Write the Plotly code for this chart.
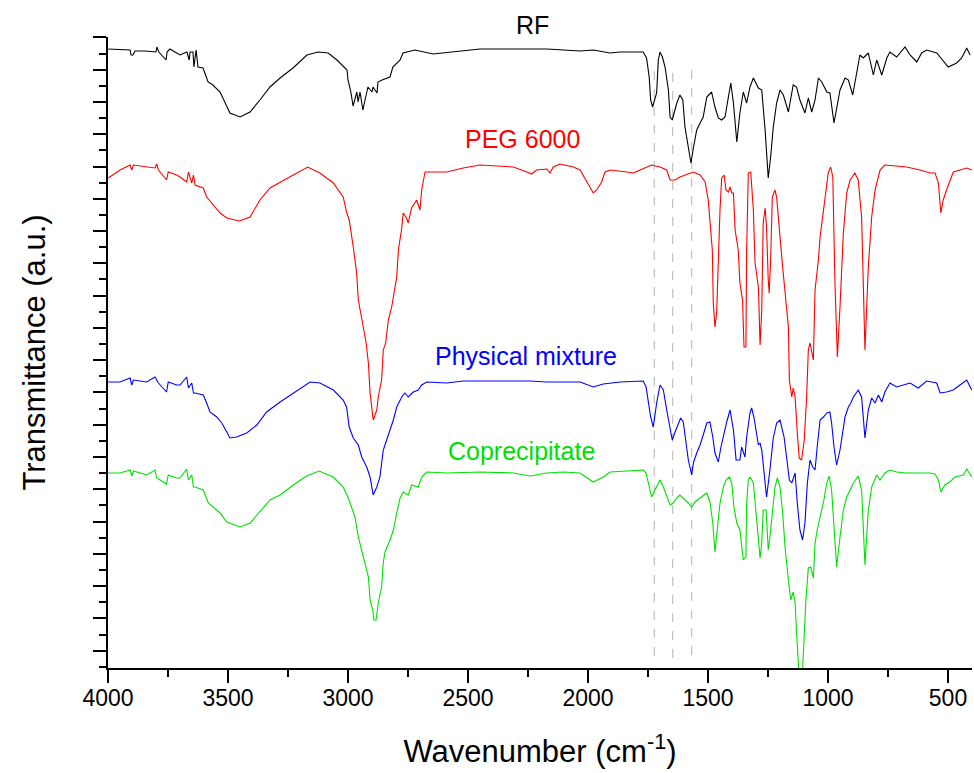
import plotly.graph_objects as go

# ---- data: (wavenumber cm-1, transmittance a.u., offset-stacked) ----
rf_points = [(3999,619),(3908,618),(3904,613),(3896,613),(3888,617),(3846,617),(3800,616),(3796,621),(3788,616),(3758,608),(3754,616),(3742,619),(3721,616),(3700,613),(3671,616),(3662,608),(3658,616),(3646,616),(3642,601),(3633,618),(3625,601),(3604,600),(3583,586),(3563,583),(3533,576),(3504,562),(3492,555),(3450,551),(3408,556),(3367,568),(3325,581),(3283,590),(3229,600),(3171,613),(3125,616),(3083,615),(3046,608),(3004,598),(3000,588),(2988,576),(2979,562),(2963,576),(2958,566),(2950,576),(2938,558),(2929,568),(2917,581),(2900,576),(2896,581),(2879,575),(2875,586),(2858,588),(2825,591),(2813,601),(2783,608),(2771,615),(2721,618),(2646,614),(2450,619),(2313,619),(2171,619),(2033,617),(1978,618),(1908,615),(1867,616),(1770,616),(1756,610),(1745,591),(1739,568),(1731,561),(1721,570),(1714,575),(1707,608),(1700,616),(1690,611),(1679,601),(1665,578),(1658,551),(1649,548),(1637,560),(1630,565),(1617,573),(1605,568),(1596,541),(1582,518),(1571,505),(1561,520),(1547,538),(1533,545),(1520,551),(1505,571),(1485,576),(1471,561),(1457,550),(1443,548),(1429,551),(1415,571),(1405,585),(1394,565),(1380,526),(1367,555),(1353,576),(1339,565),(1325,581),(1311,590),(1290,580),(1276,578),(1262,538),(1249,490),(1239,511),(1228,541),(1214,565),(1200,578),(1186,573),(1165,556),(1145,583),(1131,581),(1117,568),(1096,555),(1082,570),(1068,556),(1054,568),(1040,590),(1026,586),(1005,576),(992,575),(975,545),(964,561),(950,578),(929,590),(915,588),(897,573),(880,598),(867,613),(853,610),(832,615),(811,593),(797,608),(776,593),(755,610),(742,616),(714,611),(679,621),(658,613),(630,606),(610,615),(589,618),(547,615),(499,601),(464,605),(443,610),(422,620),(408,613)]

peg_points = [(3999,490),(3950,498),(3908,503),(3901,498),(3894,503),(3839,501),(3804,500),(3797,504),(3790,498),(3756,488),(3749,496),(3714,493),(3700,491),(3672,486),(3665,496),(3651,485),(3644,493),(3637,483),(3603,480),(3589,471),(3568,465),(3533,455),(3505,450),(3453,447),(3408,451),(3367,468),(3325,480),(3283,486),(3228,493),(3168,501),(3117,495),(3061,485),(3020,471),(3006,456),(2995,448),(2978,421),(2964,395),(2957,368),(2939,346),(2925,326),(2915,305),(2908,275),(2895,248),(2880,258),(2874,271),(2860,288),(2853,318),(2843,325),(2832,348),(2818,361),(2811,371),(2797,391),(2790,418),(2776,440),(2770,455),(2756,450),(2749,445),(2735,460),(2714,468),(2700,458),(2693,478),(2679,496),(2589,496),(2520,500),(2450,503),(2311,501),(2255,496),(2235,494),(2214,498),(2172,499),(2158,495),(2145,501),(2117,504),(2061,501),(2033,498),(2005,486),(1978,475),(1964,478),(1943,486),(1929,496),(1908,498),(1839,496),(1811,495),(1783,498),(1735,503),(1700,501),(1672,498),(1658,488),(1637,488),(1617,491),(1561,496),(1533,493),(1512,486),(1499,468),(1489,438),(1482,418),(1478,365),(1471,341),(1464,355),(1457,418),(1450,458),(1443,490),(1433,493),(1425,478),(1415,476),(1408,481),(1401,475),(1394,475),(1387,438),(1374,418),(1367,385),(1356,368),(1350,321),(1342,321),(1339,418),(1332,495),(1322,496),(1311,458),(1304,405),(1290,381),(1283,323),(1276,358),(1270,445),(1262,460),(1256,441),(1249,388),(1245,375),(1239,408),(1232,471),(1221,478),(1214,471),(1207,451),(1200,428),(1189,401),(1179,376),(1165,341),(1161,288),(1151,271),(1145,280),(1137,271),(1128,235),(1120,210),(1110,208),(1099,228),(1089,271),(1082,318),(1075,325),(1068,318),(1061,308),(1054,378),(1040,408),(1033,431),(1019,458),(1012,476),(999,495),(989,501),(980,491),(971,385),(961,311),(950,361),(936,435),(922,475),(908,488),(888,495),(874,488),(860,451),(846,318),(832,401),(818,451),(804,478),(783,498),(763,503),(728,502),(672,501),(617,498),(575,495),(554,495),(540,485),(530,455),(520,468),(506,478),(492,488),(478,496),(450,498),(422,500),(401,498)]

pm_points = [(3999,286),(3950,286),(3908,290),(3901,283),(3894,288),(3839,286),(3804,291),(3790,285),(3756,276),(3749,286),(3714,283),(3700,283),(3672,291),(3665,280),(3651,285),(3644,275),(3637,275),(3603,273),(3589,265),(3575,256),(3547,251),(3526,245),(3505,236),(3492,230),(3464,231),(3422,235),(3380,243),(3339,256),(3283,266),(3228,275),(3158,286),(3117,285),(3061,278),(3020,268),(3006,261),(2995,241),(2978,230),(2957,223),(2943,211),(2922,201),(2908,191),(2895,173),(2880,181),(2867,191),(2860,203),(2853,218),(2839,228),(2825,238),(2811,248),(2797,261),(2776,271),(2763,275),(2749,271),(2728,276),(2707,278),(2693,283),(2672,286),(2589,285),(2520,287),(2380,287),(2242,287),(2172,286),(2033,286),(1978,281),(1936,284),(1867,286),(1770,287),(1758,281),(1749,265),(1739,251),(1728,241),(1714,265),(1700,283),(1686,278),(1672,258),(1658,238),(1649,228),(1637,236),(1624,245),(1614,250),(1603,246),(1592,225),(1582,208),(1568,193),(1561,205),(1547,215),(1533,223),(1520,233),(1505,245),(1492,246),(1480,231),(1471,215),(1457,206),(1446,221),(1436,233),(1422,246),(1408,258),(1394,238),(1383,208),(1367,208),(1360,221),(1346,211),(1339,231),(1325,255),(1318,260),(1308,250),(1290,223),(1283,225),(1276,218),(1267,198),(1256,171),(1242,198),(1228,230),(1214,245),(1200,248),(1183,231),(1172,211),(1161,188),(1151,185),(1137,195),(1128,165),(1117,138),(1106,128),(1096,145),(1086,185),(1075,208),(1064,201),(1054,198),(1045,221),(1033,248),(1019,251),(1005,255),(992,256),(985,245),(975,221),(964,203),(950,218),(929,251),(915,261),(905,265),(894,271),(874,278),(860,271),(846,230),(832,258),(818,270),(804,265),(790,273),(776,266),(763,276),(742,285),(714,281),(686,283),(658,285),(624,280),(589,287),(547,285),(533,275),(506,276),(478,278),(450,283),(422,288),(401,278)]

cop_points = [(3999,195),(3950,195),(3908,198),(3901,192),(3894,197),(3839,193),(3804,198),(3797,190),(3756,184),(3749,193),(3714,190),(3700,190),(3672,199),(3665,188),(3651,193),(3644,181),(3637,181),(3603,178),(3582,165),(3561,161),(3533,155),(3505,146),(3450,141),(3408,145),(3367,156),(3325,168),(3283,173),(3228,183),(3172,192),(3120,197),(3061,191),(3020,181),(2999,170),(2985,161),(2971,151),(2957,131),(2943,118),(2929,105),(2915,91),(2908,68),(2897,58),(2892,48),(2883,48),(2874,65),(2860,81),(2853,105),(2846,116),(2825,128),(2811,138),(2797,155),(2783,170),(2770,176),(2749,173),(2735,183),(2707,181),(2693,191),(2672,196),(2589,195),(2450,196),(2311,195),(2242,192),(2172,195),(2103,196),(2033,195),(1978,186),(1936,191),(1908,196),(1839,197),(1770,198),(1758,195),(1749,185),(1735,171),(1721,178),(1707,185),(1700,188),(1686,181),(1672,171),(1658,163),(1645,165),(1630,170),(1617,173),(1603,170),(1582,165),(1568,161),(1554,166),(1533,170),(1505,175),(1492,166),(1480,145),(1471,116),(1461,141),(1450,165),(1436,181),(1425,188),(1411,191),(1401,185),(1392,161),(1380,145),(1367,138),(1353,108),(1342,111),(1339,165),(1332,188),(1325,191),(1311,185),(1301,158),(1290,123),(1283,110),(1276,125),(1270,158),(1258,158),(1249,118),(1242,131),(1232,155),(1221,181),(1211,190),(1200,181),(1189,155),(1179,121),(1165,88),(1155,68),(1145,76),(1137,65),(1130,31),(1122,-2),(1106,-2),(1099,31),(1092,68),(1082,100),(1072,101),(1061,90),(1054,125),(1045,138),(1033,151),(1017,168),(1005,185),(995,192),(985,178),(975,138),(964,101),(950,131),(936,158),(922,171),(908,178),(894,185),(874,192),(860,178),(846,103),(832,158),(818,181),(797,193),(783,188),(763,195),(742,198),(714,196),(672,195),(617,195),(575,195),(554,194),(540,188),(530,176),(513,183),(492,186),(471,191),(436,193),(422,199),(401,191)]

series_names = ["RF", "PEG 6000", "Physical mixture", "Coprecipitate"]
series_colors = ["#000000", "#ff0000", "#0000ff", "#00e000"]
series_data = [rf_points, peg_points, pm_points, cop_points]
# label anchor positions (wavenumber, transmittance)
label_pos = [(2233, 643), (2271, 529), (2258, 312), (2279, 217)]

# reference band positions (cm-1) with their dashed-line extents
band_wn = [1724, 1647, 1568]
band_top = [603, 599, 603]
band_bottom = [12, 10, 13]

x_ticks = [4000, 3500, 3000, 2500, 2000, 1500, 1000, 500]

fig = go.Figure()

for wn, top, bot in zip(band_wn, band_top, band_bottom):
    fig.add_trace(go.Scatter(x=[wn, wn], y=[bot, top], mode="lines",
                             line=dict(color="#b4b4b4", width=1, dash="dash"),
                             showlegend=False, hoverinfo="skip"))

for name, color, pts in zip(series_names, series_colors, series_data):
    xs = [p[0] for p in pts]
    ys = [p[1] for p in pts]
    fig.add_trace(go.Scatter(x=xs, y=ys, mode="lines", name=name,
                             line=dict(color=color, width=1.1),
                             showlegend=False))

Y_TOP = 631
for name, color, (lx, ly) in zip(series_names, series_colors, label_pos):
    font = dict(size=25, color=color, family="Liberation Sans, Arial")
    if ly > Y_TOP:
        fig.add_annotation(x=lx, y=1 + (ly - Y_TOP) / Y_TOP, xref="x", yref="paper",
                           xanchor="center", yanchor="middle",
                           text=name, showarrow=False, font=font)
    else:
        fig.add_annotation(x=lx, y=ly, xref="x", yref="y", xanchor="center", yanchor="middle",
                           text=name, showarrow=False, font=font)

fig.update_layout(
    width=974, height=773,
    margin=dict(l=108, r=2, t=37, b=105),
    paper_bgcolor="white", plot_bgcolor="white",
    font=dict(family="Liberation Sans, Arial", color="black"),
    showlegend=False,
)

fig.update_xaxes(
    range=[4000, 400], showgrid=False, zeroline=False,
    showline=True, linecolor="black", linewidth=2,
    tickmode="array", tickvals=x_ticks, ticktext=[str(v) for v in x_ticks],
    ticks="outside", ticklen=13, tickwidth=2, tickcolor="black",
    tickfont=dict(size=23, color="black"), ticklabelstandoff=-5,
    minor=dict(dtick=250, tick0=0, ticks="outside", ticklen=7, tickwidth=2, tickcolor="black", showgrid=False),
    title=dict(text="Wavenumber (cm<sup>-1</sup>)", font=dict(size=31, color="black"), standoff=31),
    automargin=False,
)

fig.update_yaxes(
    range=[0, Y_TOP], showgrid=False, zeroline=False,
    showline=True, linecolor="black", linewidth=2,
    tick0=17.3, dtick=32.28, showticklabels=False,
    ticks="outside", ticklen=13, tickwidth=2, tickcolor="black",
    minor=dict(tick0=1.16, dtick=16.14, ticks="outside", ticklen=7, tickwidth=2, tickcolor="black", showgrid=False),
    title=dict(text="Transmittance (a.u.)", font=dict(size=31, color="black"), standoff=38),
    automargin=False,
)

fig.write_html("out.html", config={"displayModeBar": False},
               post_script="document.body.style.margin='0';")
